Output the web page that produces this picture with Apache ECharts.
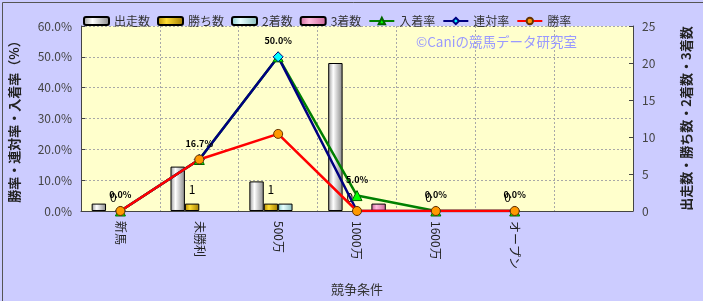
<!DOCTYPE html>
<html><head><meta charset="utf-8">
<script src="https://cdn.jsdelivr.net/npm/echarts@6/dist/echarts.min.js"></script>
<style>html,body{margin:0;padding:0;background:#ccccff}#c{width:703px;height:301px}</style>
</head><body><div id="c"></div>
<script>
const categories = ['新馬','未勝利','500万','1000万','1600万','オープン',''];
const starts  = [1, 6, 4, 20, 0, 0, '-'];
const wins    = [0, 1, 1, 0, 0, 0, '-'];
const seconds = [0, 0, 1, 0, 0, 0, '-'];
const thirds  = [0, 0, 0, 1, 0, 0, '-'];
const placeRate = [0, 16.7, 50.0, 5.0, 0, 0, '-'];
const rentaiRate = [0, 16.7, 50.0, 0, 0, 0, '-'];
const winRate = [0, 16.7, 25.0, 0, 0, 0, '-'];
const leftTicks = {min: 0, max: 60, interval: 10};
const rightTicks = {min: 0, max: 25, interval: 5};

const JP = '"Noto Sans CJK JP", sans-serif';
function grad(a, b, c) {
  return new echarts.graphic.LinearGradient(0, 0, 1, 0, [
    {offset: 0, color: a}, {offset: 0.35, color: b}, {offset: 1, color: c}]);
}
// zero-height bars are not outlined in the reference
function barData(arr) {
  return arr.map(v => v === 0 ? {value: 0, itemStyle: {borderWidth: 0, opacity: 0}} : v);
}
function labelOnly(arr) {
  return arr.map(v => v === 0 ? {value: 0, itemStyle: {borderWidth: 0, opacity: 0}, label: {opacity: 1}} : v);
}
const chart = echarts.init(document.getElementById('c'));
const barBase = {type: 'bar', yAxisIndex: 1, barGap: '0%', barCategoryGap: '27%'};
const gridLine = {color: '#a8a8a8', type: [2, 2], width: 1};
chart.setOption({
  backgroundColor: '#ccccff',
  textStyle: {fontFamily: JP},
  animation: false,
  graphic: [
    {type: 'rect', left: 0, top: 0, shape: {width: 702, height: 300}, style: {fill: 'none', stroke: '#555', lineWidth: 1}, silent: true, z: 100},
    {type: 'text', left: 416, top: 35, style: {text: '©Caniの競馬データ研究室', fill: '#9999ff', font: '13.5px ' + JP}, z: 50}
  ],
  legend: {
    left: 78, top: 10, itemGap: 7, itemWidth: 25, itemHeight: 8,
    textStyle: {fontSize: 12, color: '#333', fontFamily: JP},
    data: [
      {name: '出走数', icon: 'roundRect'}, {name: '勝ち数', icon: 'roundRect'},
      {name: '2着数', icon: 'roundRect'}, {name: '3着数', icon: 'roundRect'},
      '入着率', '連対率', '勝率']
  },
  grid: {left: 78, right: 70, top: 26, bottom: 88, show: true, backgroundColor: '#ffffcc', borderWidth: 0},
  xAxis: {
    type: 'category', data: categories,
    name: '競争条件', nameLocation: 'middle', nameGap: 72,
    nameTextStyle: {fontSize: 13, color: '#333'},
    axisLine: {lineStyle: {color: '#444'}},
    axisTick: {show: false},
    axisLabel: {rotate: -90, fontSize: 12, color: '#222', margin: 10, interval: 0},
    splitLine: {show: true, interval: 0, lineStyle: gridLine}
  },
  yAxis: [
    {
      type: 'value', min: leftTicks.min, max: leftTicks.max, interval: leftTicks.interval,
      name: '勝率・連対率・入着率（%）', nameLocation: 'middle', nameGap: 60, nameRotate: 90,
      nameTextStyle: {fontSize: 13, fontWeight: 'bold', color: '#222'},
      axisLine: {show: true, lineStyle: {color: '#444'}},
      axisTick: {show: true, inside: true, length: 4, lineStyle: {color: '#444'}},
      axisLabel: {formatter: v => v.toFixed(1) + '%', fontSize: 12, color: '#444', margin: 9},
      splitLine: {show: true, lineStyle: gridLine}
    },
    {
      type: 'value', min: rightTicks.min, max: rightTicks.max, interval: rightTicks.interval,
      position: 'right',
      name: '出走数・勝ち数・2着数・3着数', nameLocation: 'middle', nameGap: 47, nameRotate: 90,
      nameTextStyle: {fontSize: 13, fontWeight: 'bold', color: '#222'},
      axisLine: {show: true, lineStyle: {color: '#444'}},
      axisTick: {show: true, inside: true, length: 4, lineStyle: {color: '#444'}},
      axisLabel: {fontSize: 12, color: '#444', margin: 9},
      splitLine: {show: false}
    }
  ],
  series: [
    Object.assign({}, barBase, {name: '出走数', data: barData(starts),
      itemStyle: {color: grad('#999999', '#ffffff', '#888888'), borderColor: '#000', borderWidth: 1}}),
    Object.assign({}, barBase, {name: '勝ち数', data: labelOnly(wins),
      itemStyle: {color: grad('#b08800', '#ffdd33', '#a07a00'), borderColor: '#000', borderWidth: 1},
      label: {show: true, position: 'top', distance: 8, fontSize: 12, color: '#000'}}),
    Object.assign({}, barBase, {name: '2着数', data: barData(seconds),
      itemStyle: {color: grad('#88cccc', '#e8ffff', '#88bbbb'), borderColor: '#000', borderWidth: 1}}),
    Object.assign({}, barBase, {name: '3着数', data: barData(thirds),
      itemStyle: {color: grad('#cc6699', '#ffbbdd', '#cc6699'), borderColor: '#000', borderWidth: 1}}),
    {name: '入着率', type: 'line', yAxisIndex: 0, data: placeRate,
      symbol: 'triangle', symbolSize: 10,
      lineStyle: {color: '#008000', width: 2.5},
      itemStyle: {color: '#00ff00', borderColor: '#006600', borderWidth: 1},
      label: {show: true, position: 'top', distance: 6, formatter: p => p.value.toFixed(1) + '%',
        fontSize: 9, fontWeight: 'bold', color: '#000'}},
    {name: '連対率', type: 'line', yAxisIndex: 0, data: rentaiRate,
      symbol: 'diamond', symbolSize: 10,
      lineStyle: {color: '#000080', width: 2.5},
      itemStyle: {color: '#00ffff', borderColor: '#000080', borderWidth: 1}},
    {name: '勝率', type: 'line', yAxisIndex: 0, data: winRate,
      symbol: 'circle', symbolSize: 9,
      lineStyle: {color: '#ff0000', width: 2.5},
      itemStyle: {color: '#ff9900', borderColor: '#663300', borderWidth: 1}}
  ]
});
</script></body></html>
